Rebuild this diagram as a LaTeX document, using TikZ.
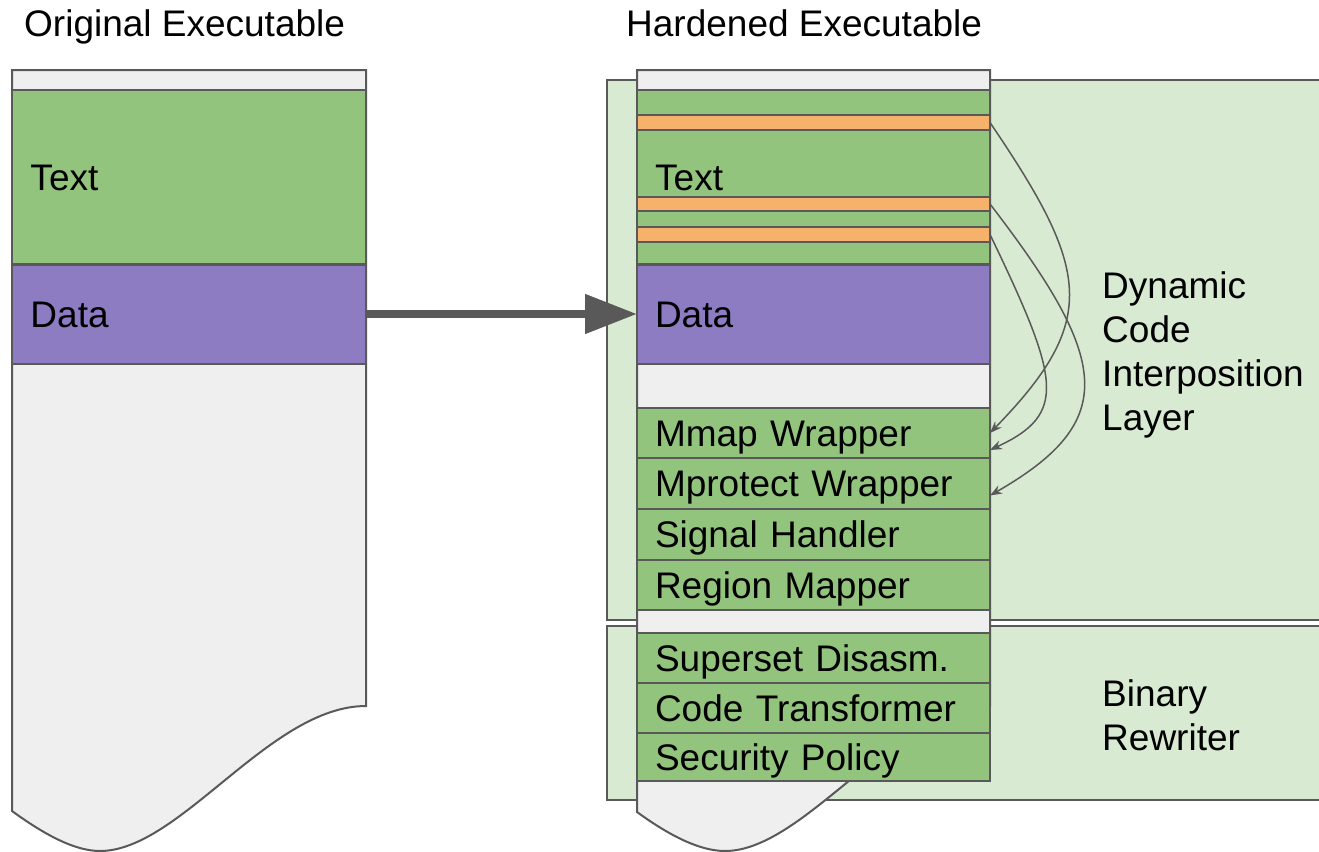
\documentclass[tikz,border=0pt]{standalone}
\usepackage{fontspec}
\setmainfont{Liberation Sans}
\usetikzlibrary{positioning,arrows.meta,calc}
\definecolor{edge}{HTML}{595959}
\definecolor{panelgreen}{HTML}{D9EAD3}
\definecolor{codegreen}{HTML}{93C47D}
\definecolor{patchorange}{HTML}{F6B26B}
\definecolor{datapurple}{HTML}{8E7CC3}
\definecolor{bodygray}{HTML}{EFEFEF}

\begin{document}
\begin{tikzpicture}[
    x=1pt, y=-1pt,
    font=\fontsize{37}{44}\selectfont,
    seg/.style={rectangle, draw=edge, line width=2pt, minimum width=353pt, inner xsep=18pt, inner ysep=0pt, outer sep=0pt, text width=317pt, text height=26pt, text depth=0pt, align=left},
    stripe/.style={seg, text height=0pt},
    panel/.style={rectangle, draw=edge, line width=2pt, fill=panelgreen, anchor=north west, inner sep=0pt, outer sep=0pt, minimum width=723pt},
    body/.style={draw=edge, line width=2pt, fill=bodygray},
    lbl/.style={inner sep=0pt, align=left},
    hook/.style={-{Stealth[length=12pt,width=9pt]}, draw=edge, line width=1.5pt},
    bigarrow/.style={-{Triangle[length=52pt,width=38pt]}, draw=edge, line width=8pt}
]
\useasboundingbox (0,0) rectangle (1319,851);

% Panels behind the hardened binary
\node[panel, minimum height=540pt] (dynpanel) at (607,80) {};
\node[panel, minimum height=174pt] (binpanel) at (607,626) {};

% Hardened executable
\draw[body] (637,70) -- (990,70) -- (990,706)
    .. controls (895,706) and (805,851) .. (725,851)
    .. controls (700,851) and (670,836) .. (637,812) -- cycle;
\node[stripe, fill=codegreen, minimum height=25pt] (gR1) at (813.5,102.5) {};
\node[stripe, fill=patchorange, minimum height=15pt] (o1) at (813.5,122.5) {};
\node[stripe, fill=codegreen, minimum height=67pt] (gR2) at (813.5,163.5) {};
\node[stripe, fill=patchorange, minimum height=14pt] (o2) at (813.5,204) {};
\node[stripe, fill=codegreen, minimum height=16pt] (gR3) at (813.5,219) {};
\node[stripe, fill=patchorange, minimum height=15pt] (o3) at (813.5,234.5) {};
\node[stripe, fill=codegreen, minimum height=22pt] (gR4) at (813.5,253) {};
\node[lbl, anchor=west] (textR) at (655,178) {Text};
\node[seg, fill=datapurple, minimum height=99pt] (dataR) at (813.5,314) {Data};

% Interposition layer
\node[seg, fill=codegreen, minimum height=50pt] (mmap) at (813.5,433) {Mmap Wrapper};
\node[seg, fill=codegreen, minimum height=51pt] (mprotect) at (813.5,483.5) {Mprotect Wrapper};
\node[seg, fill=codegreen, minimum height=51pt] (signal) at (813.5,534.5) {Signal Handler};
\node[seg, fill=codegreen, minimum height=50pt] (region) at (813.5,585) {Region Mapper};

% Rewriter
\node[seg, fill=codegreen, minimum height=50pt] (superset) at (813.5,658) {Superset Disasm.};
\node[seg, fill=codegreen, minimum height=50pt] (transform) at (813.5,708) {Code Transformer};
\node[seg, fill=codegreen, minimum height=48pt] (policy) at (813.5,757) {Security Policy};

% Original executable
\draw[body] (12,70) -- (366,70) -- (366,706)
    .. controls (270,706) and (180,851) .. (100,851)
    .. controls (75,851) and (45,835) .. (12,811) -- cycle;
\node[seg, fill=codegreen, minimum width=354pt, minimum height=174pt] (textL) at (189,177) {Text};
\node[seg, fill=datapurple, minimum width=354pt, minimum height=99pt] (dataL) at (189,314) {Data};

% Titles
\node[lbl, anchor=base west] (origtitle) at (24,37) {Original Executable};
\node[lbl, anchor=base west] (hardtitle) at (626,37) {Hardened Executable};
\node[lbl, anchor=west] (dynlbl) at (1102,355) {Dynamic\\Code\\Interposition\\Layer};
\node[lbl, anchor=west] (binlbl) at (1102,715) {Binary\\Rewriter};

% Arrows
\draw[bigarrow] (dataL.east) -- (dataR.west);
\draw[hook] (o1.east) .. controls (1090,270) and (1100,320) .. (mmap.east);
\draw[hook] (o2.east) .. controls (1110,360) and (1120,421) .. ($(mprotect.east)+(0,12)$);
\draw[hook] (o3.east) .. controls (1060,380) and (1068,414) .. ($(mmap.east)+(0,17)$);
\end{tikzpicture}
\end{document}
